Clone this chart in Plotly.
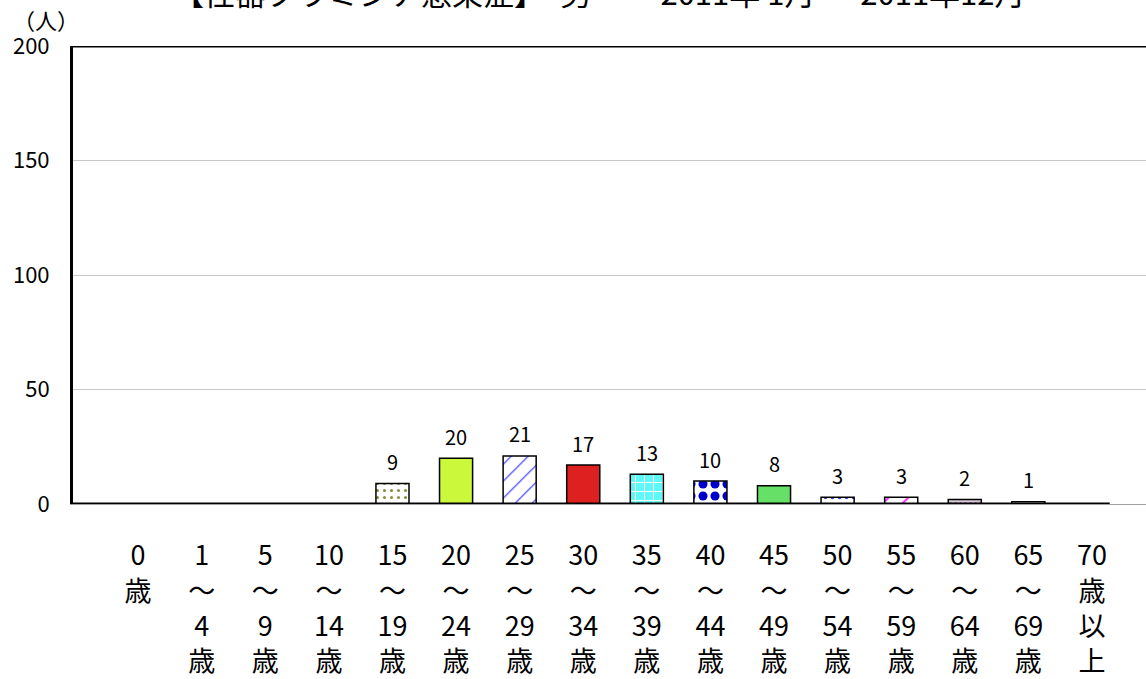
import plotly.graph_objects as go

# Data
age_groups = ["0歳", "1～4歳", "5～9歳", "10～14歳", "15～19歳", "20～24歳", "25～29歳",
              "30～34歳", "35～39歳", "40～44歳", "45～49歳", "50～54歳", "55～59歳",
              "60～64歳", "65～69歳", "70歳以上"]
tick_labels = ["0<br>歳", "1<br>～<br>4<br>歳", "5<br>～<br>9<br>歳", "10<br>～<br>14<br>歳",
               "15<br>～<br>19<br>歳", "20<br>～<br>24<br>歳", "25<br>～<br>29<br>歳",
               "30<br>～<br>34<br>歳", "35<br>～<br>39<br>歳", "40<br>～<br>44<br>歳",
               "45<br>～<br>49<br>歳", "50<br>～<br>54<br>歳", "55<br>～<br>59<br>歳",
               "60<br>～<br>64<br>歳", "65<br>～<br>69<br>歳", "70<br>歳<br>以<br>上"]
cases = [0, 0, 0, 0, 9, 20, 21, 17, 13, 10, 8, 3, 3, 2, 1, 0]

# one fill style per bar (excel-like patterns)
bg_colors = ["white", "white", "white", "white", "white", "#ccf83c", "white", "#dd2020",
             "#5ff8f8", "white", "#66e066", "white", "white", "#d8ccd8", "white", "white"]
fg_colors = ["white", "white", "white", "white", "#8a8a40", "#ccf83c", "#3333ff", "#dd2020",
             "white", "#0000cc", "#66e066", "#3333ff", "#ff00ff", "#a060a0", "white", "white"]
shapes = ["", "", "", "", ".", "", "/", "", "+", ".", "", ".", "/", ".", "", ""]
sizes = [8, 8, 8, 8, 7, 8, 12, 8, 9, 12, 8, 7, 14, 5, 8, 8]
solidity = [0.3, 0.3, 0.3, 0.3, 0.15, 0.3, 0.1, 0.3, 0.2, 0.45, 0.3, 0.2, 0.12, 0.3, 0.3, 0.3]

font_jp = "Noto Sans CJK JP"
x_idx = list(range(len(age_groups)))

fig = go.Figure()
# one trace per bar so each can carry its own fill pattern
for i, v in enumerate(cases):
    fig.add_trace(go.Bar(
        x=[i], y=[v], width=0.52,
        marker=dict(
            color=fg_colors[i],
            line=dict(color="black", width=1.5),
            pattern=dict(shape=shapes[i], fgcolor=fg_colors[i], bgcolor=bg_colors[i],
                         size=sizes[i], solidity=solidity[i], fillmode="replace"),
        ),
        name=age_groups[i],
    ))

# value labels above the bars
for i, v in enumerate(cases):
    if v > 0:
        fig.add_annotation(x=i, y=v, text=str(v), showarrow=False, yshift=22,
                           font=dict(family=font_jp, size=20, color="black"))

# title (top of it is cut off in the original)
fig.add_annotation(
    text="【性器クラミジア感染症】　男　　 2011年 1月 ～ 2011年12月",
    xref="paper", yref="paper", x=0, xanchor="left", xshift=98, y=1, yanchor="bottom",
    yshift=30, showarrow=False, font=dict(family=font_jp, size=31, color="black"),
)
fig.add_annotation(
    text="（人）", xref="paper", yref="paper", x=0, y=1, xanchor="right", yanchor="bottom",
    xshift=7, yshift=10, showarrow=False, borderpad=0,
    font=dict(family=font_jp, size=22, color="black"),
)

# frame lines: thick top border, thick baseline ending before the last category
fig.add_shape(type="line", xref="paper", yref="y", x0=0, x1=1, y0=200, y1=200,
              line=dict(color="black", width=3))
fig.add_shape(type="line", xref="x", yref="y", x0=-1.1, x1=len(age_groups) - 0.72, y0=0, y1=0,
              line=dict(color="black", width=3))

fig.update_layout(
    width=1146, height=679, autosize=False,
    margin=dict(l=73, r=0, t=46, b=175, autoexpand=False),
    paper_bgcolor="white", plot_bgcolor="white",
    showlegend=False,
    barmode="overlay",
)
fig.update_xaxes(
    range=[-1.024, 15.85], automargin=False,
    tickvals=x_idx, ticktext=tick_labels,
    tickfont=dict(family=font_jp, size=27, color="black"),
    ticklabelstandoff=28,
    showgrid=False, zeroline=False,
    showline=True, linecolor="#a0a0a0", linewidth=1,
)
fig.update_yaxes(
    range=[0, 200], tickvals=[0, 50, 100, 150, 200], automargin=False,
    tickfont=dict(family=font_jp, size=22, color="black"),
    ticklabelstandoff=16,
    showgrid=True, gridcolor="#c8c8c8", gridwidth=1, zeroline=False,
    showline=True, linecolor="black", linewidth=3,
)

# page body has a default margin; drop it so the figure sits at the window corner
fig.write_html("out.html", config={"displayModeBar": False},
               post_script="document.body.style.margin='0';")
